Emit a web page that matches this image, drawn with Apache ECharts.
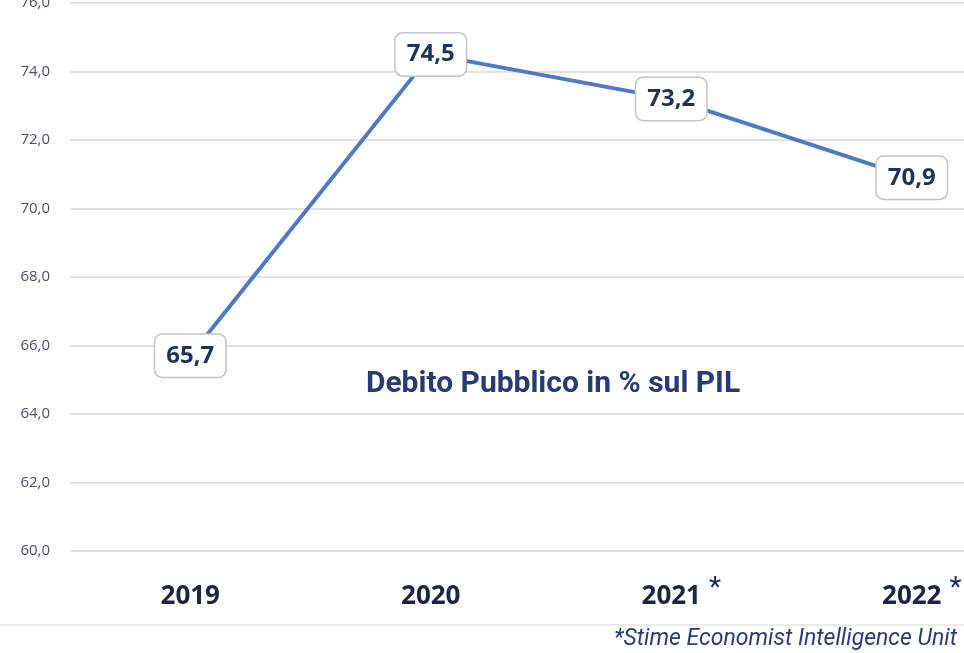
<!DOCTYPE html>
<html>
<head>
<meta charset="utf-8">
<script src="https://cdn.jsdelivr.net/npm/echarts@6/dist/echarts.min.js"></script>
<style>html,body{margin:0;padding:0;background:#fff;}#c{width:964px;height:653px;}</style>
</head>
<body>
<div id="c"></div>
<script>
const years = ['2019', '2020', '2021', '2022'];
const estimated = [false, false, true, true];
const debtPct = [65.7, 74.5, 73.2, 70.9];
const yTicks = [60, 62, 64, 66, 68, 70, 72, 74, 76];
const titleText = 'Debito Pubblico in % sul PIL';
const noteText = '*Stime Economist Intelligence Unit';

const chart = echarts.init(document.getElementById('c'));
const fmt = v => v.toFixed(1).replace('.', ',');

chart.setOption({
  backgroundColor: '#fff',
  animation: false,
  grid: { left: 70, width: 962, top: 3, bottom: 102, containLabel: false, outerBoundsMode: 'none' },
  title: {
    text: titleText,
    left: 548, top: 364, textAlign: 'center',
    textStyle: { fontFamily: 'Roboto', fontWeight: 'bold', fontSize: 30, color: '#263a78' }
  },
  graphic: [
    { type: 'line', shape: { x1: 0, y1: 625, x2: 964, y2: 625 }, style: { stroke: '#e6e6e6', lineWidth: 1.5 } },
    { type: 'text', right: 7, top: 628, style: { text: noteText, font: 'italic 23px Roboto', fill: '#2b3a7c' } }
  ],
  xAxis: {
    type: 'category',
    data: years,
    boundaryGap: true,
    axisLine: { show: false },
    axisTick: { show: false },
    axisLabel: {
      margin: 24,
      formatter: (v, i) => '{p|}{y|' + v + '}{s|' + (estimated[i] ? '*' : ' ') + '}',
      rich: {
        y: { fontFamily: 'Open Sans', fontWeight: 'bold', fontSize: 26, color: '#1b2440' },
        p: { width: 20 },
        s: { width: 20, align: 'right', fontFamily: 'Roboto', fontSize: 28, color: '#1b2a6b', padding: [0, 0, 16, 0] }
      }
    }
  },
  yAxis: {
    type: 'value',
    min: yTicks[0], max: yTicks[yTicks.length - 1], interval: 2,
    axisLine: { show: false },
    axisTick: { show: false },
    splitLine: { lineStyle: { color: '#d9d9d9', width: 1.5 } },
    axisLabel: {
      margin: 20,
      formatter: v => fmt(v),
      fontFamily: 'Open Sans', fontSize: 15, color: '#4a5060'
    }
  },
  series: [{
    type: 'line',
    data: debtPct,
    symbol: 'circle',
    symbolSize: 1,
    showSymbol: true,
    itemStyle: { color: '#4f79c6' },
    lineStyle: { color: '#4f79c6', width: 4 },
    label: {
      show: true,
      position: 'inside',
      formatter: p => fmt(p.value),
      fontFamily: 'Open Sans', fontWeight: 'bold', fontSize: 24, color: '#1d3457',
      backgroundColor: '#fff',
      borderColor: '#c4c4c4', borderWidth: 1.5, borderRadius: 7,
      padding: [10, 11, 8, 11]
    }
  }]
});
</script>
</body>
</html>
